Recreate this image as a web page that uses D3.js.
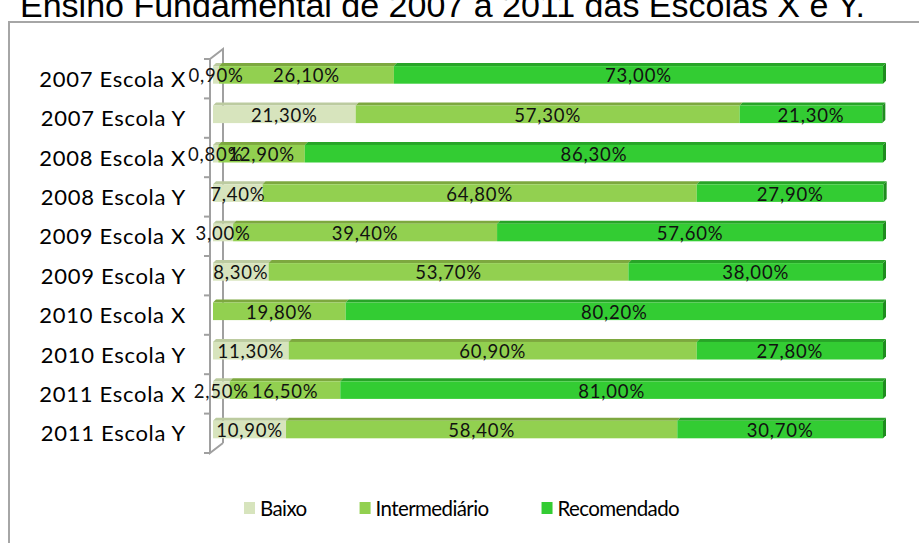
<!DOCTYPE html>
<html><head><meta charset="utf-8">
<script src="https://cdn.jsdelivr.net/npm/d3@7"></script>
<style>body{margin:0;background:#fff;} svg{display:block;}</style>
</head><body>
<svg id="c" width="919" height="543"></svg>
<script>
const categories = ["2007 Escola X","2007 Escola Y","2008 Escola X","2008 Escola Y","2009 Escola X","2009 Escola Y","2010 Escola X","2010 Escola Y","2011 Escola X","2011 Escola Y"];
const seriesNames = ["Baixo","Intermediário","Recomendado"];
const baixo = [0.9,21.3,0.8,7.4,3.0,8.3,0,11.3,2.5,10.9];
const intermediario = [26.1,57.3,12.9,64.8,39.4,53.7,19.8,60.9,16.5,58.4];
const recomendado = [73.0,21.3,86.3,27.9,57.6,38.0,80.2,27.8,81.0,30.7];
const title = "Ensino Fundamental de 2007 a 2011 das Escolas X e Y.";

const front = {"Baixo":"#d7e4bd","Intermediário":"#92d050","Recomendado":"#33cc33"};
const topC  = {"Baixo":"#bccba0","Intermediário":"#7da83f","Recomendado":"#28a428"};
const sideC = "#1f8c1f";

const svg = d3.select("#c");
const table = categories.map((c,i)=>({cat:c,"Baixo":baixo[i],"Intermediário":intermediario[i],"Recomendado":recomendado[i]}));
const stack = d3.stack().keys(seriesNames)(table);

const x = d3.scaleLinear().domain([0,100]).range([213,883]);
const y = d3.scaleBand().domain(categories).range([59,453]);

// title (cut at top)
svg.append("text").attr("x",20).attr("y",17)
  .attr("font-family","'Liberation Sans', Arial, sans-serif").attr("font-size",34)
  .attr("fill","#000").text(title);

// frame
svg.append("rect").attr("x",9).attr("y",22).attr("width",920).attr("height",540)
  .attr("fill","none").attr("stroke","#a6a6a6").attr("stroke-width",2);

// 3D axis wall
const DX = 13, DY = 10;
const y0 = y.range()[0], y1 = y.range()[1], ax = 210;
const wall = svg.append("g").attr("stroke","#a0a0a0").attr("stroke-width",2).attr("fill","none");
wall.append("path").attr("d",`M${ax},${y0}L${ax},${y1}L${ax+DX},${y1-DY}M${ax},${y0}L${ax+DX},${y0-DY}L${ax+DX},${y1-DY}`);
const bounds = d3.range(categories.length+1).map(i=>y0+i*y.step());
wall.selectAll("line").data(bounds).join("line")
  .attr("x1",ax-6).attr("x2",ax).attr("y1",d=>d).attr("y2",d=>d);

// category labels via axis
const gAx = svg.append("g").attr("transform",`translate(${ax},1)`)
  .call(d3.axisLeft(y).tickSize(0).tickPadding(24));
gAx.select(".domain").remove();
gAx.selectAll("text").attr("font-family","Lato, sans-serif").attr("font-size",22)
  .attr("letter-spacing","0.7px").attr("fill","#000");

// bars
const H = 17.6, OFF = -3.8, dx = 3, dy = 3;
const barY = c => y(c) + y.bandwidth()/2 + OFF - H/2;
const gBars = svg.append("g");
stack.forEach((s,si)=>{
  const key = s.key;
  s.forEach((d,i)=>{
    const v = d[1]-d[0];
    if (v<=0) return;
    const cat = d.data.cat, yt = barY(cat), xa = x(d[0]), xb = x(d[1]);
    gBars.append("polygon")
      .attr("points",`${xa},${yt} ${xb},${yt} ${xb+dx},${yt-dy} ${xa+dx},${yt-dy}`)
      .attr("fill",topC[key]);
    gBars.append("rect").attr("x",xa).attr("y",yt).attr("width",xb-xa).attr("height",H)
      .attr("fill",front[key]);
    if (si===seriesNames.length-1){
      gBars.append("polygon")
        .attr("points",`${xb},${yt} ${xb+dx},${yt-dy} ${xb+dx},${yt+H-dy} ${xb},${yt+H}`)
        .attr("fill",sideC);
    }
  });
});
// data labels
const fmt = v => v.toFixed(2).replace(".",",")+"%";
const gLab = svg.append("g").attr("font-family","Lato, sans-serif").attr("font-size",18.5)
  .attr("letter-spacing","0.8px").attr("fill","#111").attr("text-anchor","middle");
stack.forEach(s=>{
  s.forEach(d=>{
    const v = d[1]-d[0];
    if (v<=0) return;
    gLab.append("text").attr("x",(x(d[0])+x(d[1]))/2)
      .attr("y",barY(d.data.cat)+H/2+1).attr("dy","0.35em").text(fmt(v));
  });
});

// legend
const gLeg = svg.append("g");
let lx = 244;
seriesNames.forEach(k=>{
  gLeg.append("rect").attr("x",lx).attr("y",502).attr("width",11).attr("height",12).attr("fill",front[k]);
  const t = gLeg.append("text").attr("x",lx+16).attr("y",515.5)
    .attr("font-family","Lato, sans-serif").attr("font-size",20.5).attr("letter-spacing","-0.6px")
    .attr("fill","#000").text(k);
  lx += 16 + t.node().getComputedTextLength() + 53;
});
</script>
</body></html>
